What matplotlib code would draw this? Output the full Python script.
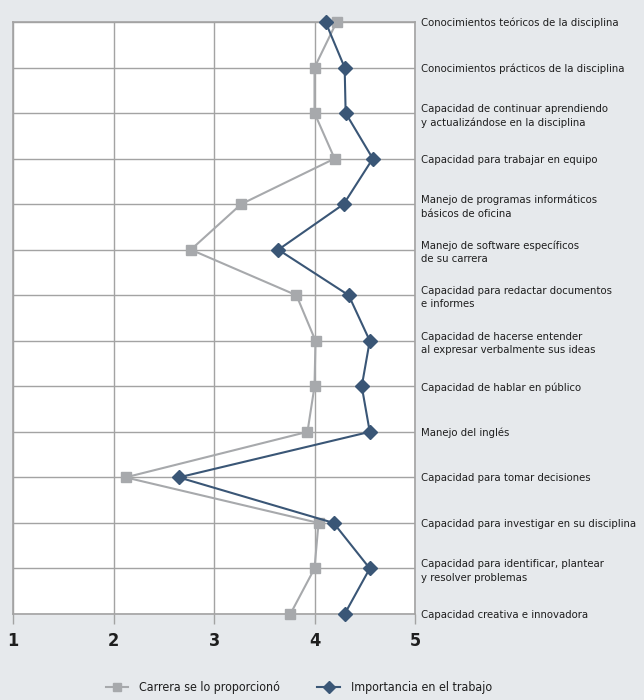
import matplotlib
matplotlib.use("Agg")
import matplotlib.pyplot as plt
from matplotlib import font_manager

categories = [
    "Conocimientos teóricos de la disciplina",
    "Conocimientos prácticos de la disciplina",
    "Capacidad de continuar aprendiendo\ny actualizándose en la disciplina",
    "Capacidad para trabajar en equipo",
    "Manejo de programas informáticos\nbásicos de oficina",
    "Manejo de software específicos\nde su carrera",
    "Capacidad para redactar documentos\ne informes",
    "Capacidad de hacerse entender\nal expresar verbalmente sus ideas",
    "Capacidad de hablar en público",
    "Manejo del inglés",
    "Capacidad para tomar decisiones",
    "Capacidad para investigar en su disciplina",
    "Capacidad para identificar, plantear\ny resolver problemas",
    "Capacidad creativa e innovadora",
]
carrera = [4.22, 4.00, 4.00, 4.20, 3.27, 2.77, 3.82, 4.01, 4.00, 3.93, 2.12, 4.04, 4.00, 3.76]
importancia = [4.11, 4.30, 4.31, 4.58, 4.29, 3.64, 4.34, 4.55, 4.47, 4.55, 2.65, 4.19, 4.55, 4.30]
xticks = [1, 2, 3, 4, 5]
series_names = ["Carrera se lo proporcionó", "Importancia en el trabajo"]

# look for a condensed / narrow font
cond_path = None
cond_bold = None
for f in font_manager.fontManager.ttflist:
    nm = (f.name + " " + str(f.fname)).lower()
    is_cond = ("condensed" in nm or "narrow" in nm or
               str(f.stretch) in ("condensed", "semi-condensed", "extra-condensed"))
    if not is_cond or f.style != "normal":
        continue
    w = f.weight if isinstance(f.weight, int) else 400
    if w in (400, "normal") and cond_path is None:
        cond_path = f.fname
    if (w >= 600) and cond_bold is None:
        cond_bold = f.fname

if cond_path:
    lab_fp = font_manager.FontProperties(fname=cond_path, size=8.15)
    leg_fp = font_manager.FontProperties(fname=cond_path, size=8.9)
    tick_fp = font_manager.FontProperties(fname=cond_bold or cond_path, size=13,
                                          weight="bold")
else:
    lab_fp = font_manager.FontProperties(family="Liberation Sans", size=7.6)
    leg_fp = font_manager.FontProperties(family="Liberation Sans", size=8.5)
    tick_fp = font_manager.FontProperties(family="Liberation Sans", size=12, weight="bold")

bg = "#E6E9EC"
gray = "#A7A9AC"
blue = "#3A5676"
grid = "#A3A3A3"
txt = "#1E1E1E"

fig = plt.figure(figsize=(6.44, 7.0), dpi=100, facecolor=bg)
ax = fig.add_axes([13/644, 1-614/700, (415-13)/644, (614-22)/700])
ax.set_facecolor("white")

y = list(range(len(categories)))
ax.plot(carrera, y, color=gray, lw=1.5, marker="s", ms=7, mfc=gray, mec=gray,
        clip_on=False, zorder=3, label=series_names[0])
ax.plot(importancia, y, color=blue, lw=1.5, marker="D", ms=7, mfc=blue, mec=blue,
        clip_on=False, zorder=4, label=series_names[1])

ax.set_xlim(1, 5)
ax.set_ylim(len(categories)-1, 0)
ax.set_xticks(xticks)
ax.set_xticklabels([str(t) for t in xticks], fontproperties=tick_fp, color=txt)
ax.set_yticks(y)
ax.set_yticklabels(categories, fontproperties=lab_fp, color=txt, linespacing=1.4)
ax.yaxis.tick_right()
ax.tick_params(axis="y", length=0, pad=4.5)
ax.tick_params(axis="x", length=7, width=1, color=grid, pad=6)
ax.grid(True, color=grid, lw=1)
ax.set_axisbelow(True)
for s in ax.spines.values():
    s.set_color(grid)
    s.set_linewidth(1.2)

fig.legend(loc="center", bbox_to_anchor=(299/644, 1-688/700), ncol=2, frameon=False,
           prop=leg_fp, handlelength=1.8, columnspacing=3.0, handletextpad=0.9,
           labelcolor=txt, markerscale=0.9)

fig.savefig("out.png", dpi=100, facecolor=bg)
